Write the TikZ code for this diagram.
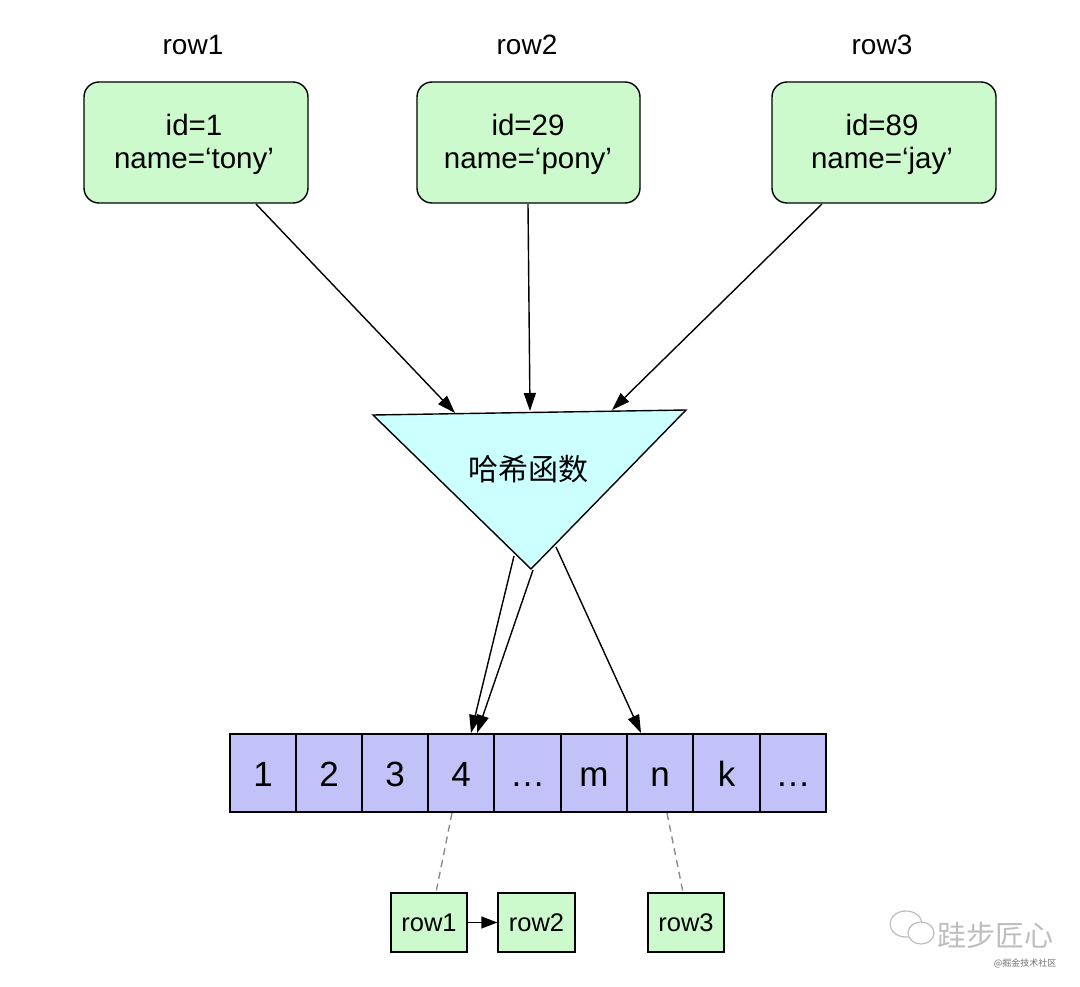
\documentclass[tikz,border=0pt]{standalone}
\usepackage{fontspec}
\setmainfont{Liberation Sans}
\newfontfamily\cjk{Noto Sans CJK SC}
\usetikzlibrary{arrows.meta,calc}
\definecolor{boxgreen}{HTML}{CCFACC}
\definecolor{tricyan}{HTML}{CCFFFF}
\definecolor{cellblue}{HTML}{C2C2F8}
\definecolor{dashgray}{HTML}{8C8C8C}
\definecolor{wmgray}{HTML}{BEBEBE}
\begin{document}
\begin{tikzpicture}[x=1pt,y=-1pt,
  rowbox/.style={draw=black,line width=1.4pt,fill=boxgreen,rounded corners=15pt},
  cell/.style={draw=black,line width=1.4pt,fill=cellblue},
  smallbox/.style={draw=black,line width=1.4pt,fill=boxgreen},
  conn/.style={line width=1.4pt,-{Triangle[length=18pt,width=12pt]}},
  dashconn/.style={dashgray,line width=1.4pt,dash pattern=on 7pt off 5pt},
  lbl/.style={font=\fontsize{28}{32}\selectfont},
  boxtxt/.style={font=\fontsize{29.5}{33}\selectfont,align=center},
  celltxt/.style={font=\fontsize{35}{38}\selectfont,anchor=base},
  smalltxt/.style={font=\fontsize{25.5}{28}\selectfont}]
\useasboundingbox (0,0) rectangle (1080,987);
\fill[white] (0,0) rectangle (1080,987);
% top labels
\node[lbl] (l1) at (193,45) {row1};
\node[lbl] (l2) at (527,45) {row2};
\node[lbl] (l3) at (882,45) {row3};
% row boxes
\draw[rowbox] (84,82) rectangle (308,203);
\draw[rowbox] (417,82) rectangle (640,203);
\draw[rowbox] (772,82) rectangle (996,203);
\node[boxtxt] (b1) at (194,144) {id=1\\name=‘tony’};
\node[boxtxt] (b2) at (528,144) {id=29\\name=‘pony’};
\node[boxtxt] (b3) at (882,144) {id=89\\name=‘jay’};
\coordinate (b1s) at (256,204);
\coordinate (b2s) at (528,204);
\coordinate (b3s) at (822,204);
% triangle
\draw[line width=1.4pt,fill=tricyan,line join=miter] (373,415) -- (686,410) -- (531,569) -- cycle;
\node[font=\cjk\fontsize{30}{34}\selectfont] (hash) at (528,469) {哈希函数};
\coordinate (t1) at (455,413);
\coordinate (t2) at (530,411);
\coordinate (t3) at (612,410);
\draw[conn] (b1s) -- (t1);
\draw[conn] (b2s) -- (t2);
\draw[conn] (b3s) -- (t3);
% array
\foreach \i/\xa/\xb/\t in {1/230/296/1,2/296/362/2,3/362/428/3,4/428/494/4,5/494/561/…,6/561/627/m,7/627/693/n,8/693/760/k,9/760/826/…}{
  \draw[cell] (\xa,734) rectangle (\xb,812);
  \node[celltxt] (c\i) at ({(\xa+\xb)/2},786) {\t};
}
\coordinate (o1) at (514,556);
\coordinate (o2) at (533,570);
\coordinate (o3) at (556,547);
\coordinate (a1) at (471,733);
\coordinate (a2) at (477,733);
\coordinate (a3) at (641,733);
\draw[conn] (o1) -- (a1);
\draw[conn] (o2) -- (a2);
\draw[conn] (o3) -- (a3);
% small boxes
\node[smallbox,smalltxt,minimum width=76pt,minimum height=59pt,inner sep=0pt] (s1) at (429,922.5) {row1};
\node[smallbox,smalltxt,minimum width=77pt,minimum height=59pt,inner sep=0pt] (s2) at (536.5,922.5) {row2};
\node[smallbox,smalltxt,minimum width=76pt,minimum height=59pt,inner sep=0pt] (s3) at (686,922.5) {row3};
\draw[line width=1.4pt,-{Triangle[length=16pt,width=12pt]}] (s1) -- (s2);
\coordinate (d1) at (452,813);
\coordinate (d2) at (667,813);
\draw[dashconn] (d1) -- (s1.north -| 436,0);
\draw[dashconn] (d2) -- (s3.north -| 683,0);
% watermark
\begin{scope}[wmgray,line width=1.2pt]
\draw (906,924) ellipse (16pt and 13pt);
\draw[fill=white] (921,933) ellipse (13pt and 11pt);
\end{scope}
\node[wmgray,font=\cjk\fontsize{29}{30}\selectfont,anchor=west] (wm1) at (934,935) {跬步匠心};
\node[wmgray!60!black,font=\cjk\fontsize{9}{10}\selectfont,anchor=east] (wm2) at (1060,963) {@掘金技术社区};
\end{tikzpicture}
\end{document}
